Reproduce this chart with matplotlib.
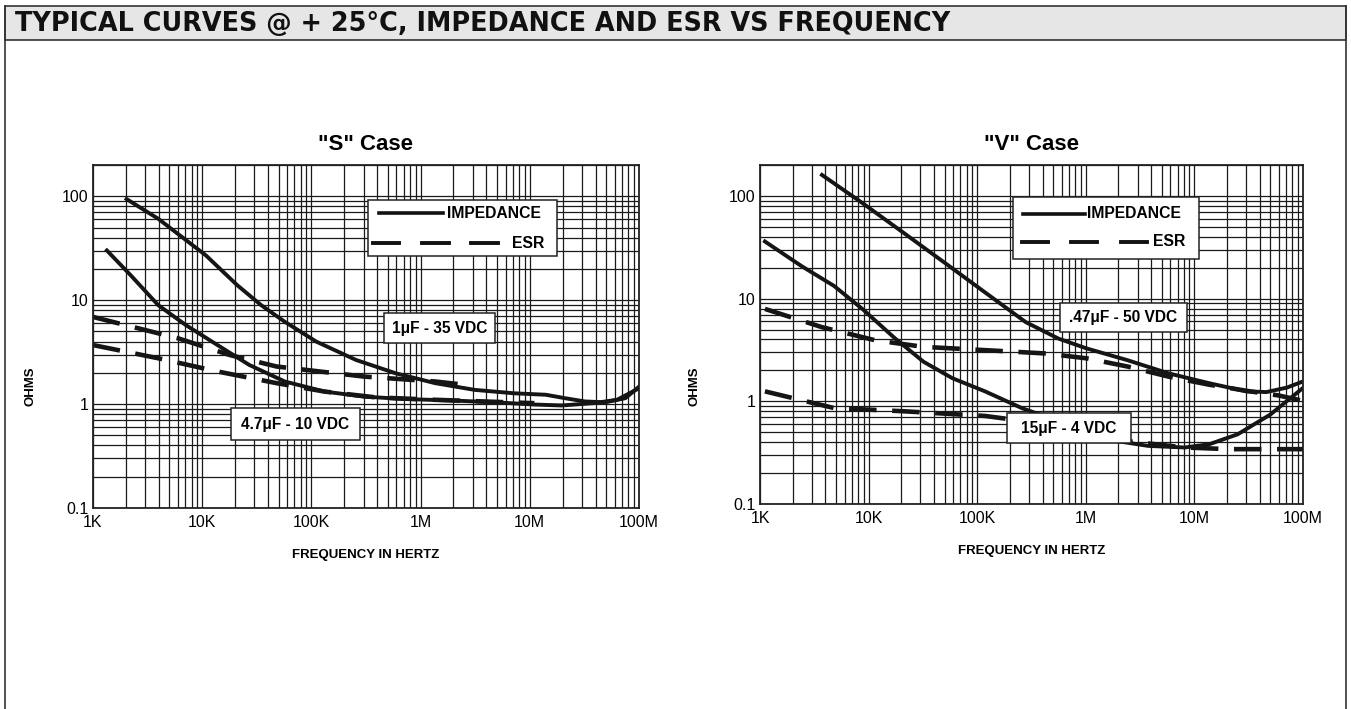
import numpy as np
import matplotlib
matplotlib.use("Agg")
import matplotlib.pyplot as plt
from matplotlib.patches import Rectangle
from matplotlib.lines import Line2D
from matplotlib.ticker import FixedLocator, LogLocator, NullFormatter

# ---------------- data ----------------
tick_freqs = [1e3, 1e4, 1e5, 1e6, 1e7, 1e8]
tick_freq_labels = ["1K", "10K", "100K", "1M", "10M", "100M"]
tick_ohms = [0.1, 1, 10, 100]
tick_ohm_labels = ["0.1", "1", "10", "100"]

# "S" case
s_z1_f = [2.03e3, 3.96e3, 1.08e4, 2.1e4, 3.47e4, 5.7e4, 1.11e5, 2.56e5, 5.91e5, 1.36e6,
          3.13e6, 7.2e6, 1.4e7, 2.1e7, 3.2e7, 4.9e7, 7.5e7, 1.0e8]
s_z1_v = [94, 60.7, 27, 13.9, 8.95, 6.2, 3.99, 2.66, 1.98, 1.59,
          1.37, 1.27, 1.23, 1.14, 1.06, 1.04, 1.14, 1.47]
s_z47_f = [1.34e3, 2.21e3, 3.96e3, 7.1e3, 1.38e4, 2.7e4, 5.7e4, 1.32e5, 3.03e5, 6.99e5,
           2.07e6, 4.8e6, 1.1e7, 1.96e7, 3.8e7, 6.3e7, 1.0e8]
s_z47_v = [30.1, 17.4, 8.95, 5.75, 3.7, 2.38, 1.65, 1.32, 1.18, 1.12,
           1.08, 1.04, 0.99, 0.97, 1.02, 1.10, 1.42]
s_esr1_f = [1e3, 6e3, 1.78e4, 4.8e4, 3.03e5, 1.36e6, 2.2e6]
s_esr1_v = [6.9, 4.3, 2.97, 2.3, 1.84, 1.65, 1.56]
s_esr47_f = [1e3, 3.96e3, 1.38e4, 4.8e4, 1.32e5, 3.9e5, 1.36e6, 1.1e7]
s_esr47_v = [3.7, 2.76, 2.06, 1.59, 1.32, 1.16, 1.10, 1.02]

# "V" case
v_z047_f = [3.72e3, 8.8e3, 2.1e4, 5.0e4, 1.18e5, 2.8e5, 5.6e5, 1.02e6, 2.4e6, 5.8e6,
            1.37e7, 3.0e7, 4.6e7, 7.1e7, 1.0e8]
v_z047_v = [160, 85, 43.7, 22.4, 11.5, 5.9, 4.08, 3.27, 2.52, 1.87,
            1.50, 1.25, 1.23, 1.36, 1.56]
v_z15_f = [1.11e3, 2.4e3, 4.8e3, 8.8e3, 1.76e4, 3.2e4, 5.9e4, 1.18e5, 2.57e5, 1.72e6,
           3.75e6, 8.15e6, 1.37e7, 2.5e7, 5.0e7, 1.0e8]
v_z15_v = [36, 20.8, 13.3, 7.9, 4.08, 2.43, 1.68, 1.25, 0.86, 0.418,
           0.368, 0.355, 0.382, 0.477, 0.743, 1.35]
v_esr047_f = [1.11e3, 3.7e3, 1.15e4, 3.2e4, 1.18e5, 4.31e5, 1.02e6, 2.43e6, 5.77e6,
              1.37e7, 3.25e7, 5.96e7, 1.0e8]
v_esr047_v = [7.94, 5.28, 3.93, 3.39, 3.15, 2.92, 2.62, 2.18, 1.74,
              1.45, 1.25, 1.14, 1.01]
v_esr15_f = [1.11e3, 4.8e3, 2.1e4, 1.18e5, 1.98e5, 1.58e6, 8.15e6, 2.1e7, 1.0e8]
v_esr15_v = [1.25, 0.86, 0.80, 0.72, 0.67, 0.43, 0.355, 0.342, 0.342]

title_text = "TYPICAL CURVES @ + 25°C, IMPEDANCE AND ESR VS FREQUENCY"
panel_titles = ['"S" Case', '"V" Case']
s_labels = ["1μF - 35 VDC", "4.7μF - 10 VDC"]
v_labels = [".47μF - 50 VDC", "15μF - 4 VDC"]

# ---------------- figure ----------------
W, H = 1351, 709
fig = plt.figure(figsize=(W / 100, H / 100), dpi=100)
plt.rcParams['font.family'] = ['Liberation Sans', 'DejaVu Sans']

def make_axes(x0, x1, ytop, ybot):
    return fig.add_axes([x0 / W, 1 - ybot / H, (x1 - x0) / W, (ybot - ytop) / H])

axS = make_axes(93, 639, 165, 508)
axV = make_axes(760, 1303, 165, 504)

CURVE_LW = 2.8
DASH = (0, (6.0, 3.4))
INK = '#151515'
for ax, ttl in zip([axS, axV], panel_titles):
    ax.set_xscale('log')
    ax.set_yscale('log')
    ax.set_xlim(1e3, 1e8)
    ax.set_ylim(0.1, 200)
    ax.xaxis.set_major_locator(FixedLocator(tick_freqs))
    ax.set_xticklabels(tick_freq_labels)
    ax.yaxis.set_major_locator(FixedLocator(tick_ohms))
    ax.set_yticklabels(tick_ohm_labels)
    ax.xaxis.set_minor_locator(LogLocator(base=10, subs=np.arange(2, 10), numticks=20))
    ax.yaxis.set_minor_locator(LogLocator(base=10, subs=np.arange(2, 10), numticks=20))
    ax.xaxis.set_minor_formatter(NullFormatter())
    ax.yaxis.set_minor_formatter(NullFormatter())
    ax.grid(True, which='both', color='#1a1a1a', lw=0.9)
    ax.set_axisbelow(True)
    ax.tick_params(which='both', length=0, labelsize=11.5, pad=3)
    ax.tick_params(axis='x', pad=5)
    for sp in ax.spines.values():
        sp.set_linewidth(1.3)
        sp.set_color('#222')
    ax.set_title(ttl, fontsize=16, fontweight='bold', pad=11)
    ax.set_xlabel("FREQUENCY IN HERTZ", fontsize=9.5, fontweight='bold', labelpad=14)

axS.plot(s_z1_f, s_z1_v, color=INK, lw=CURVE_LW)
axS.plot(s_z47_f, s_z47_v, color=INK, lw=CURVE_LW)
axS.plot(s_esr1_f, s_esr1_v, color=INK, lw=CURVE_LW + 0.5, ls=DASH)
axS.plot(s_esr47_f, s_esr47_v, color=INK, lw=CURVE_LW + 0.5, ls=DASH)

axV.plot(v_z047_f, v_z047_v, color=INK, lw=CURVE_LW)
axV.plot(v_z15_f, v_z15_v, color=INK, lw=CURVE_LW)
axV.plot(v_esr047_f, v_esr047_v, color=INK, lw=CURVE_LW + 0.5, ls=DASH)
axV.plot(v_esr15_f, v_esr15_v, color=INK, lw=CURVE_LW + 0.5, ls=DASH)

# ---------------- overlay in pixel coordinates ----------------
ov = fig.add_axes([0, 0, 1, 1], zorder=10)
ov.set_xlim(0, W)
ov.set_ylim(H, 0)
ov.axis('off')
ov.patch.set_visible(False)

# outer frame and title bar
ov.add_patch(Rectangle((5, 6), 1341, 34, facecolor='#e6e6e6', edgecolor='#333', lw=1.2))
ov.add_line(Line2D([5, 5], [6, H], color='#333', lw=1.2))
ov.add_line(Line2D([1346, 1346], [6, H], color='#333', lw=1.2))
ttl = ov.text(15, 24.5, title_text, fontsize=16, fontweight='bold', family=['DejaVu Sans'],
              ha='left', va='center', color='#111')
# fit title width to the reference
renderer = fig.canvas.get_renderer()
wpx = ttl.get_window_extent(renderer).width
ttl.set_fontsize(16 * 935 / wpx)

# y labels
ov.text(30, 386, "OHMS", rotation=90, fontsize=9.5, fontweight='bold', ha='center', va='center')
ov.text(695, 386, "OHMS", rotation=90, fontsize=9.5, fontweight='bold', ha='center', va='center')

def legend_box(x0, x1, y0, y1, line_x, text_x, dash_x, esr_x, ya, yb):
    ov.add_patch(Rectangle((x0, y0), x1 - x0, y1 - y0, facecolor='white', edgecolor='#222', lw=1.1))
    ov.add_line(Line2D(line_x, [ya, ya], color='#111', lw=2.6))
    ov.text(text_x, ya, "IMPEDANCE", fontsize=11.3, fontweight='bold', ha='left', va='center')
    for a, b in dash_x:
        ov.add_line(Line2D([a, b], [yb, yb], color='#111', lw=2.8))
    ov.text(esr_x, yb, "ESR", fontsize=11.3, fontweight='bold', ha='right', va='center')

legend_box(368, 557, 200, 256, [379, 443], 447, [(373, 399), (422, 449), (471, 498)], 544, 213, 243)
legend_box(1013, 1199, 197, 259, [1023, 1085], 1087, [(1022, 1048), (1071, 1097), (1121, 1147)], 1185, 214, 242)

def label_box(x0, x1, y0, y1, txt):
    ov.add_patch(Rectangle((x0, y0), x1 - x0, y1 - y0, facecolor='white', edgecolor='#222', lw=1.1))
    ov.text((x0 + x1) / 2, (y0 + y1) / 2, txt, fontsize=11.2, fontweight='bold', ha='center', va='center')

label_box(384, 495, 313, 343, s_labels[0])
label_box(231, 360, 408, 440, s_labels[1])
label_box(1060, 1187, 303, 332, v_labels[0])
label_box(1007, 1131, 413, 443, v_labels[1])

fig.savefig("out.png", dpi=100)
